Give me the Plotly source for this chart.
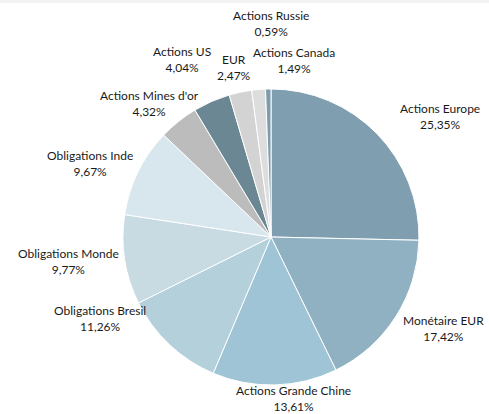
import math
import plotly.graph_objects as go

categories = ["Actions Europe", "Monétaire EUR", "Actions Grande Chine", "Obligations Bresil",
              "Obligations Monde", "Obligations Inde", "Actions Mines d'or", "Actions US",
              "EUR", "Actions Canada", "Actions Russie"]
values = [25.35, 17.42, 13.61, 11.26, 9.77, 9.67, 4.32, 4.04, 2.47, 1.49, 0.59]
pct_labels = ["25,35%", "17,42%", "13,61%", "11,26%", "9,77%", "9,67%", "4,32%", "4,04%",
              "2,47%", "1,49%", "0,59%"]

colors = ["#7f9fb0", "#8fb1c2", "#9fc4d5", "#b3d0db", "#c8dbe3", "#d8e6ed",
          "#bcbcbc", "#6b8794", "#d3d3d3", "#dddddd", "#7d9cae"]

W, H = 489, 414
CX, CY, R = 271, 237, 148  # pie centre / radius in pixels

# label placement (angle in degrees clockwise from top, distance in radius units)
label_place = [(54.6, 1.40), (117.9, 1.32), (172.2, 1.10), (244.6, 1.28),
               (263.0, 1.38), (292.0, 1.32), (317.7, 1.22), (333.3, 1.34),
               (347.6, 1.17), (7.5, 1.20), (0.0, 1.44)]

fig = go.Figure(go.Pie(
    labels=categories, values=values, sort=False, direction="clockwise", rotation=0,
    marker=dict(colors=colors, line=dict(color="white", width=1)),
    textinfo="none", hoverinfo="label+percent", showlegend=False,
    domain=dict(x=[(CX - R) / W, (CX + R) / W], y=[1 - (CY + R) / H, 1 - (CY - R) / H]),
))

annotations = []
for cat, pct, (ang, d) in zip(categories, pct_labels, label_place):
    a = math.radians(ang)
    px = CX + d * R * math.sin(a)
    py = CY - d * R * math.cos(a)
    annotations.append(dict(
        x=px / W, y=1 - py / H, xref="paper", yref="paper", showarrow=False,
        text=f"{cat}<br>{pct}", align="center", xanchor="center", yanchor="middle",
        font=dict(family="Lato, Carlito, sans-serif", size=12, color="#1a1a1a"),
    ))

fig.update_layout(
    width=W, height=H, margin=dict(l=0, r=0, t=0, b=0),
    paper_bgcolor="white", plot_bgcolor="white",
    annotations=annotations,
    shapes=[dict(type="rect", xref="paper", yref="paper", x0=0, x1=1,
                 y0=1 - 3 / H, y1=1, fillcolor="#f3f3f3", line=dict(width=0), layer="below")],
)

fig.write_html("out.html", config={"displayModeBar": False},
               post_script="document.body.style.margin='0';document.body.style.overflow='hidden';")
